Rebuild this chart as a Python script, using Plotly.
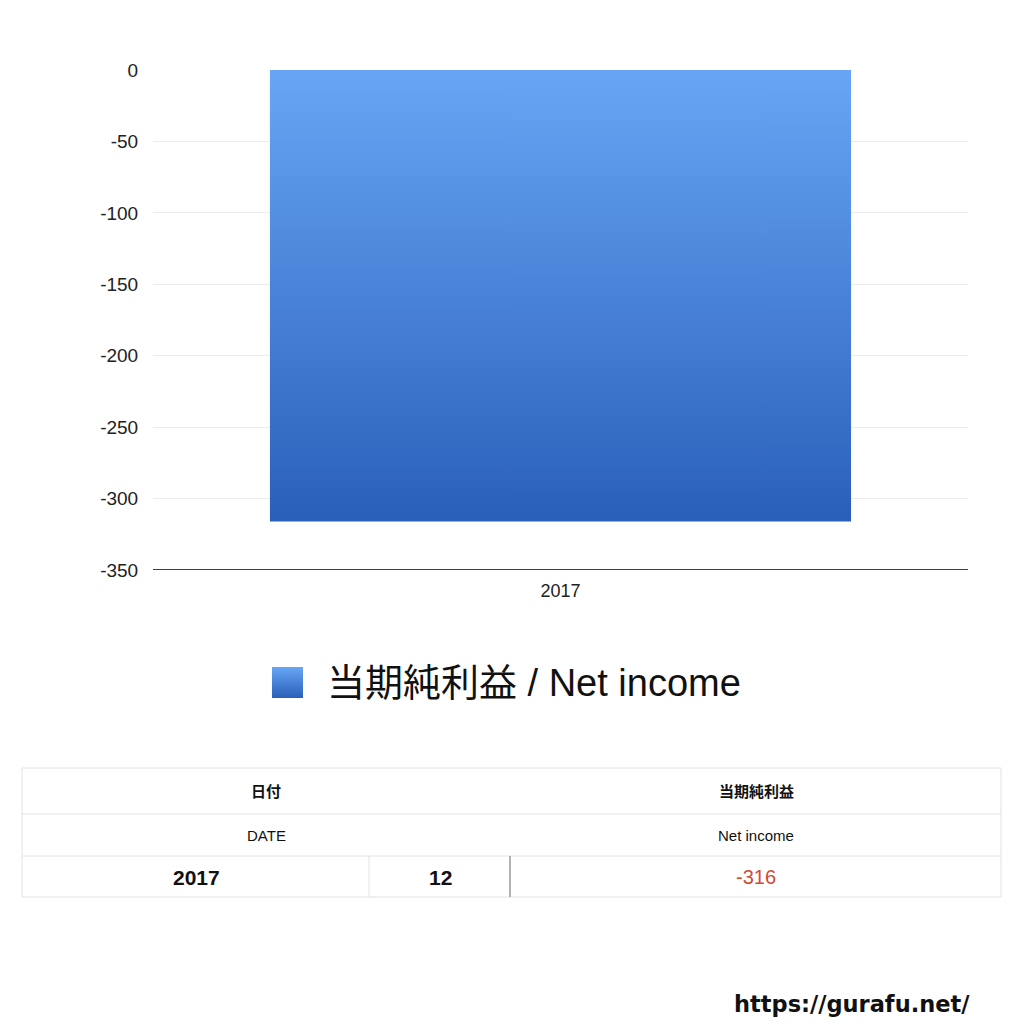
import plotly.graph_objects as go

# data
years = ["2017"]
months = ["12"]
net_income = [-316]
y_ticks = [0, -50, -100, -150, -200, -250, -300, -350]

series_name = "当期純利益 / Net income"
head_date_jp, head_date_en = "日付", "DATE"
head_val_jp, head_val_en = "当期純利益", "Net income"

FONT = "Liberation Sans, Noto Sans CJK JP, sans-serif"
W = H = 1024
OFF = 8  # page body margin
bar_w = 0.713
grad = [[0, "#2a5fb9"], [1, "#67a6f5"]]


def px(x):
    return (x - OFF) / W


def py(y):
    return 1 - (y - OFF) / H


fig = go.Figure()

# bar drawn as a filled polygon so it can carry a vertical gradient
for i, v in enumerate(net_income):
    fig.add_trace(go.Scatter(
        x=[i - bar_w / 2, i + bar_w / 2, i + bar_w / 2, i - bar_w / 2, i - bar_w / 2],
        y=[0, 0, v, v, 0],
        mode="lines", line=dict(width=0), fill="toself",
        fillgradient=dict(type="vertical", colorscale=grad),
        name=series_name, hoverinfo="skip", showlegend=False,
    ))

# legend swatch on its own little axes
fig.add_trace(go.Scatter(
    x=[0, 1, 1, 0, 0], y=[0, 0, 1, 1, 0], xaxis="x2", yaxis="y2",
    mode="lines", line=dict(width=0), fill="toself",
    fillgradient=dict(type="vertical", colorscale=grad),
    hoverinfo="skip", showlegend=False,
))

hidden = dict(visible=False, range=[0, 1], fixedrange=True)
fig.update_layout(
    width=W, height=H,
    margin=dict(l=0, r=0, t=0, b=0),
    paper_bgcolor="white", plot_bgcolor="white",
    font=dict(family=FONT, color="#222"),
    showlegend=False,
    xaxis=dict(domain=[px(153), px(968)], range=[-0.5, len(years) - 0.5],
               tickvals=list(range(len(years))), ticktext=years,
               showgrid=False, zeroline=False, showline=False, automargin=False,
               tickfont=dict(size=18, color="#222"), ticks="outside",
               ticklen=4, tickcolor="white"),
    yaxis=dict(domain=[py(570), py(70)], range=[-350, 0],
               tickvals=y_ticks, ticktext=[str(t) for t in y_ticks],
               showgrid=True, gridcolor="#ebebeb", zeroline=False, automargin=False,
               tickfont=dict(size=19, color="#222"), ticklen=10, ticks="outside",
               tickcolor="white"),
    xaxis2=dict(domain=[px(272), px(303)], anchor="y2", **hidden),
    yaxis2=dict(domain=[py(698), py(667)], anchor="x2", **hidden),
)

# x axis baseline at -350
fig.add_shape(type="line", xref="x domain", yref="y", x0=0, x1=1,
              y0=y_ticks[-1], y1=y_ticks[-1], line=dict(color="#000", width=1.3))

# legend text
fig.add_annotation(text=series_name, xref="paper", yref="paper",
                   x=px(325), y=py(683), xanchor="left", yanchor="middle",
                   showarrow=False, font=dict(size=38, color="#111", family=FONT))

# table below the chart
border = "#e2e2e2"
rows = [768, 814, 856, 897]
col_mid, col_split = 369, 510
for ry in rows:
    fig.add_shape(type="line", xref="paper", yref="paper", x0=px(22), x1=px(1001),
                  y0=py(ry), y1=py(ry), line=dict(color=border, width=1))
for cx in [22, 1001]:
    fig.add_shape(type="line", xref="paper", yref="paper", x0=px(cx), x1=px(cx),
                  y0=py(rows[0]), y1=py(rows[-1]), line=dict(color=border, width=1))
fig.add_shape(type="line", xref="paper", yref="paper", x0=px(col_mid), x1=px(col_mid),
              y0=py(rows[2]), y1=py(rows[3]), line=dict(color=border, width=1))
fig.add_shape(type="line", xref="paper", yref="paper", x0=px(col_split), x1=px(col_split),
              y0=py(rows[2]), y1=py(rows[3]), line=dict(color="#9a9a9a", width=1.5))


def cell(text, cx, cy, size, color="#111", bold=False):
    fig.add_annotation(text=f"<b>{text}</b>" if bold else text, xref="paper", yref="paper",
                       x=px(cx), y=py(cy), showarrow=False,
                       font=dict(size=size, color=color, family=FONT),
                       xanchor="center", yanchor="middle")


cell(head_date_jp, 266, 791, 15, bold=True)
cell(head_val_jp, 756, 791, 15, bold=True)
cell(head_date_en, 266, 835, 15)
cell(head_val_en, 756, 835, 15)
for y, m, v in zip(years, months, net_income):
    cell(y, 196, 877, 21, bold=True)
    cell(m, 440, 877, 21, bold=True)
    cell(str(v), 756, 877, 20, color="#d04a37")

fig.add_annotation(text="<b>https://gurafu.net/</b>", xref="paper", yref="paper",
                   x=px(972), y=py(1004), xanchor="right", yanchor="middle",
                   showarrow=False,
                   font=dict(size=22.5, color="#111", family="DejaVu Sans, sans-serif"))

fig.write_html("out.html")
